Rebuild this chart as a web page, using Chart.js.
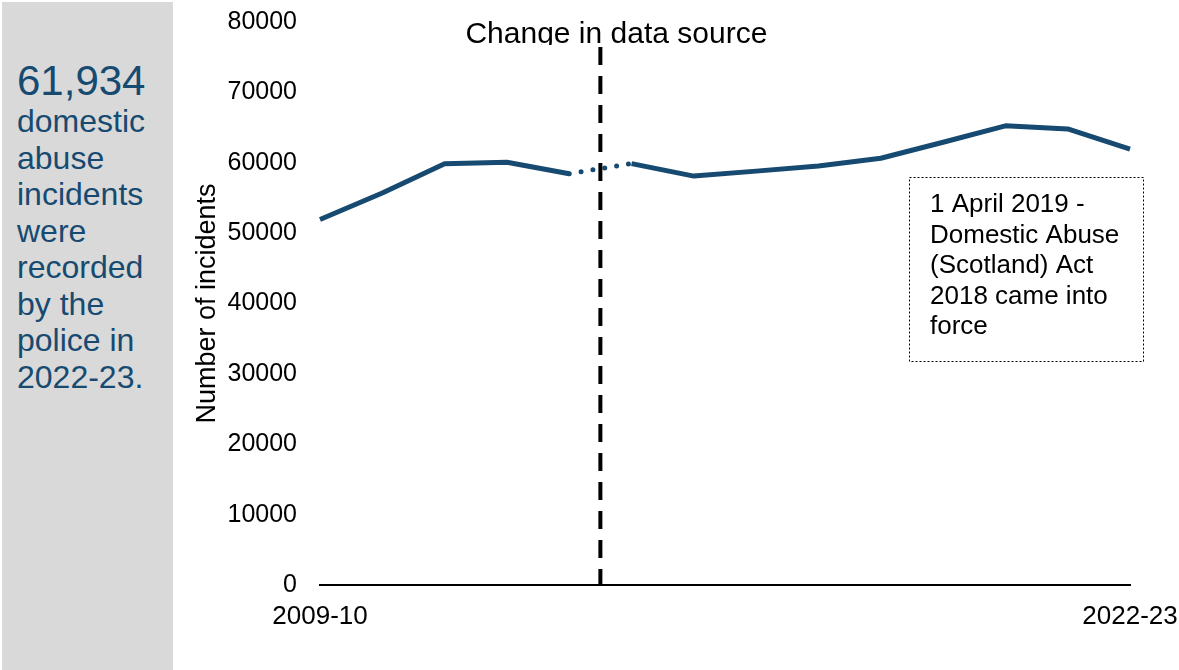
<!DOCTYPE html>
<html>
<head>
<meta charset="utf-8">
<script src="https://cdn.jsdelivr.net/npm/chart.js@4.4.1/dist/chart.umd.min.js"></script>
<style>
html, body { margin: 0; padding: 0; background: #fff; }
body { width: 1179px; height: 670px; position: relative; overflow: hidden; font-family: "Liberation Sans", Arial, sans-serif; }
#chart { position: absolute; left: 0; top: 0; }
#panel { position: absolute; left: 2px; top: 2px; width: 171px; height: 668px; background: #d9d9d9; color: #174a70; box-sizing: border-box; padding: 57px 0 0 15px; }
#panel .big { font-size: 42px; line-height: 44px; }
#panel .txt { font-size: 32px; line-height: 36.5px; }
</style>
</head>
<body>
<canvas id="chart" width="1179" height="670"></canvas>
<div id="panel">
  <div class="big">61,934</div>
  <div class="txt">domestic<br>abuse<br>incidents<br>were<br>recorded<br>by the<br>police in<br>2022-23.</div>
</div>
<script>
// DATA
var years = ['2009-10', '2010-11', '2011-12', '2012-13', '2013-14', '2014-15', '2015-16',
             '2016-17', '2017-18', '2018-19', '2019-20', '2020-21', '2021-22', '2022-23'];
var incidents = [51926, 55698, 59847, 60080, 58439, 59882, 58104,
                 58810, 59541, 60641, 62907, 65251, 64807, 61934];
var yTicks = [0, 10000, 20000, 30000, 40000, 50000, 60000, 70000, 80000];
var gapAfter = 4;              // dotted join between 2013-14 and 2014-15
var sourceChangeAt = 4.5;      // change in data source
var sourceLabel = 'Change in data source';
var noteLines = ['1 April 2019 -', 'Domestic Abuse', '(Scotland) Act', '2018 came into', 'force'];

var lineColor = '#174a70';
var font = '"Liberation Sans", Arial, sans-serif';

// linhas extras: tracejado, texto e caixa
var extras = {
    id: 'extras',
    afterDraw: function (chart) {
        var ctx = chart.ctx;
        var x = chart.scales.x.getPixelForValue(sourceChangeAt);
        var area = chart.chartArea;

        ctx.save();
        ctx.strokeStyle = '#000';
        ctx.lineWidth = 4;
        ctx.setLineDash([18, 11]);
        ctx.beginPath();
        ctx.moveTo(x, 47);
        ctx.lineTo(x, area.bottom);
        ctx.stroke();
        ctx.restore();

        ctx.save();
        ctx.beginPath();
        ctx.rect(0, 0, chart.width, 45);
        ctx.clip();
        ctx.fillStyle = '#000';
        ctx.font = '30px ' + font;
        ctx.textAlign = 'center';
        ctx.textBaseline = 'alphabetic';
        ctx.fillText(sourceLabel, x + 16, 43);
        ctx.restore();

        // caixa da nota
        ctx.save();
        ctx.strokeStyle = '#000';
        ctx.lineWidth = 1;
        ctx.setLineDash([2, 2]);
        ctx.strokeRect(909.5, 177.5, 234, 184);
        ctx.setLineDash([]);
        ctx.fillStyle = '#000';
        ctx.font = '26px ' + font;
        ctx.textAlign = 'left';
        ctx.textBaseline = 'middle';
        noteLines.forEach(function (t, i) {
            ctx.fillText(t, 930, 205 + i * 30.5);
        });
        ctx.restore();
    }
};

var config = {
    type: 'line',
    data: {
        labels: years,
        datasets: [{
            label: 'Number of incidents',
            data: incidents,
            borderColor: lineColor,
            borderWidth: 5,
            pointRadius: 0,
            tension: 0,
            borderJoinStyle: 'round',
            segment: {
                borderDash: function (c) { return c.p0DataIndex === gapAfter ? [0, 12] : undefined; },
                borderCapStyle: function (c) { return c.p0DataIndex === gapAfter ? 'round' : 'butt'; }
            }
        }]
    },
    options: {
        responsive: false,
        animation: false,
        devicePixelRatio: 1,
        layout: { padding: { left: 175, right: 49, top: 22, bottom: 0 } },
        plugins: { legend: { display: false }, tooltip: { enabled: false } },
        scales: {
            x: {
                offset: false,
                grid: { display: false, drawTicks: false },
                border: { display: true, color: '#000', width: 2 },
                ticks: {
                    autoSkip: false,
                    maxRotation: 0,
                    padding: 16,
                    color: '#000',
                    font: { family: font, size: 26 },
                    callback: function (v, i) {
                        return (i === 0 || i === years.length - 1) ? years[i] : '';
                    }
                },
                afterFit: function (s) {
                    s.height = 85;
                    s.paddingLeft = 0;
                    s.paddingRight = 0;
                }
            },
            y: {
                min: yTicks[0],
                max: yTicks[yTicks.length - 1],
                grid: { display: false, drawTicks: false },
                border: { display: false },
                ticks: {
                    stepSize: yTicks[1] - yTicks[0],
                    padding: 23,
                    color: '#000',
                    font: { family: font, size: 25 },
                    callback: function (v) { return String(v); }
                },
                title: {
                    display: true,
                    text: 'Number of incidents',
                    color: '#000',
                    font: { family: font, size: 27 },
                    padding: { top: 16, bottom: 0 }
                },
                afterFit: function (s) {
                    s.width = 145;
                    s.paddingTop = 0;
                    s.paddingBottom = 0;
                }
            }
        }
    },
    plugins: [extras]
};

var myChart = new Chart(document.getElementById('chart'), config);
</script>
</body>
</html>
